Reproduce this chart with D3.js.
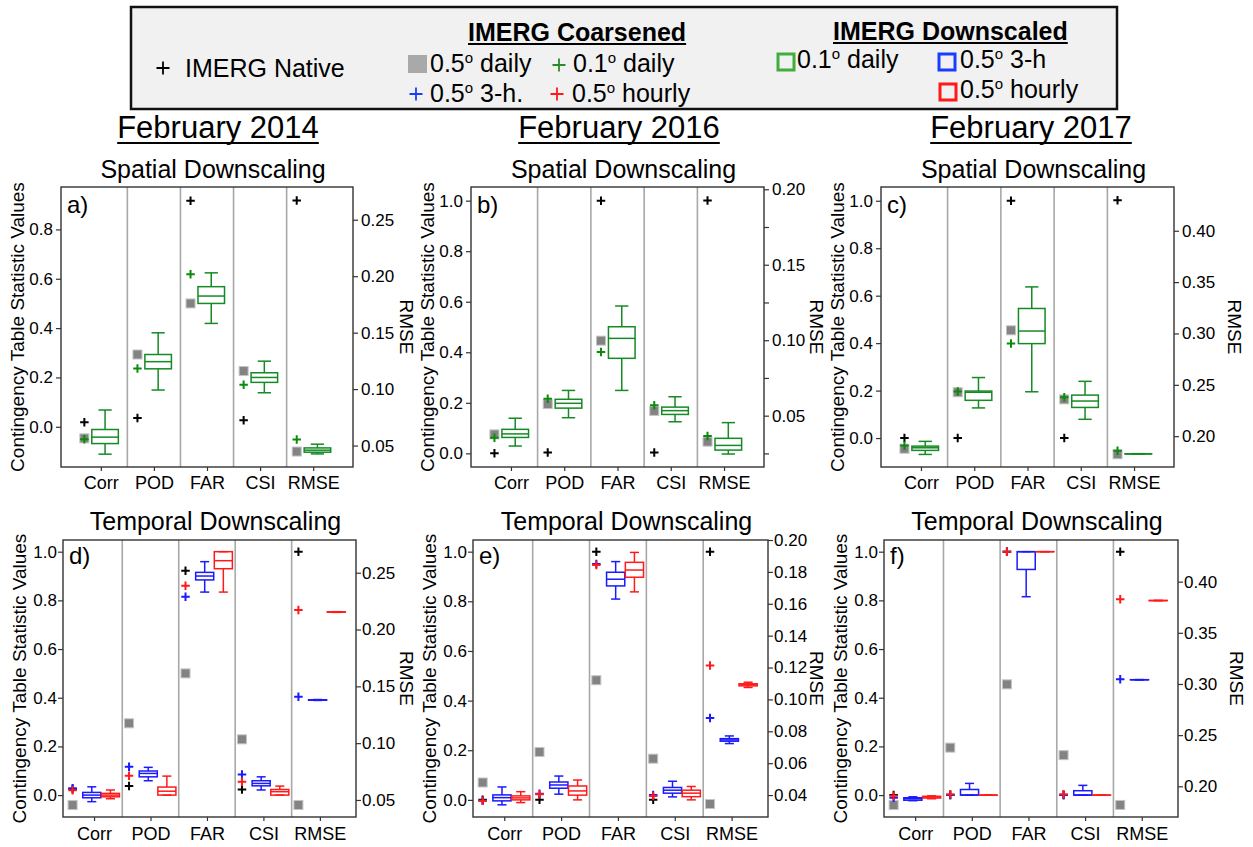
<!DOCTYPE html>
<html>
<head>
<meta charset="utf-8">
<script src="https://cdn.jsdelivr.net/npm/d3@7"></script>
<style>
  body { margin: 0; background: #fff; }
  text { font-family: "Liberation Sans", Arial, sans-serif; fill: #000; }
</style>
</head>
<body>
<svg id="chart" width="1253" height="847"></svg>
<script>
'use strict';

var categories = ['Corr', 'POD', 'FAR', 'CSI', 'RMSE'];
var months = ['February 2014', 'February 2016', 'February 2017'];
var leftTicks = [0, 0.2, 0.4, 0.6, 0.8, 1.0];

// box values are [low whisker, q1, median, q3, high whisker]; the RMSE entry uses the right axis

// a) Feb 2014, spatial
var a_native = [0.018, 0.036, 0.916, 0.027, 0.267];
var a_coarse05 = [-0.047, 0.293, 0.50, 0.226, 0.0447];
var a_coarse01 = [-0.051, 0.236, 0.618, 0.170, 0.0553];
var a_box01 = [[-0.111, -0.068, -0.042, -0.011, 0.068], [0.149, 0.235, 0.264, 0.293, 0.381], [0.419, 0.50, 0.530, 0.568, 0.624], [0.138, 0.180, 0.20, 0.219, 0.266], [0.0426, 0.0441, 0.0459, 0.0479, 0.0512]];
var a_rmseTicks = [0.05, 0.10, 0.15, 0.20, 0.25];

// b) Feb 2016, spatial
var b_native = [0, 0.003, 1.0, 0.003, 0.1925];
var b_coarse05 = [0.075, 0.195, 0.446, 0.168, 0.0328];
var b_coarse01 = [0.062, 0.216, 0.401, 0.190, 0.0365];
var b_box01 = [[0.029, 0.063, 0.077, 0.095, 0.139], [0.141, 0.179, 0.198, 0.214, 0.249], [0.249, 0.376, 0.455, 0.501, 0.583], [0.125, 0.154, 0.169, 0.183, 0.224], [0.0246, 0.0272, 0.0303, 0.035, 0.0454]];
var b_rmseTicks = [0.025, 0.05, 0.075, 0.10, 0.125, 0.15, 0.175, 0.20];

// c) Feb 2017, spatial
var c_native = [0, 0, 1.0, 0, 0.4296];
var c_coarse05 = [-0.045, 0.193, 0.454, 0.163, 0.1824];
var c_coarse01 = [-0.031, 0.196, 0.398, 0.172, 0.1857];
var c_box01 = [[-0.069, -0.052, -0.041, -0.034, -0.014], [0.127, 0.159, 0.193, 0.198, 0.255], [0.195, 0.398, 0.451, 0.546, 0.637], [0.079, 0.129, 0.156, 0.181, 0.239], [0.1826, 0.1827, 0.1828, 0.1829, 0.1830]];
var c_rmseTicks = [0.20, 0.25, 0.30, 0.35, 0.40];

// d) Feb 2014, temporal
var d_native = [0.025, 0.037, 0.922, 0.023, 0.2685];
var d_coarse05 = [-0.041, 0.295, 0.50, 0.229, 0.0456];
var d_coarse3h = [0.028, 0.116, 0.815, 0.085, 0.1409];
var d_coarse1h = [0.020, 0.079, 0.860, 0.055, 0.2172];
var d_box3h = [[-0.027, -0.011, 0.0, 0.011, 0.034], [0.059, 0.075, 0.089, 0.099, 0.114], [0.834, 0.884, 0.90, 0.915, 0.959], [0.021, 0.038, 0.048, 0.059, 0.075], [0.1376, 0.1378, 0.138, 0.1382, 0.1384]];
var d_box1h = [[-0.015, -0.007, 0.0, 0.007, 0.021], [0, 0, 0.016, 0.033, 0.078], [0.834, 0.930, 0.963, 1.0, 1.0], [0, 0, 0.014, 0.023, 0.037], [0.2151, 0.2153, 0.2154, 0.2155, 0.2157]];
var d_rmseTicks = [0.05, 0.10, 0.15, 0.20, 0.25];

// e) Feb 2016, temporal
var e_native = [0, 0, 1.0, 0, 0.1927];
var e_coarse05 = [0.070, 0.193, 0.482, 0.166, 0.0344];
var e_coarse3h = [-0.004, 0.025, 0.950, 0.020, 0.0883];
var e_coarse1h = [-0.004, 0.023, 0.946, 0.016, 0.1213];
var e_box3h = [[-0.020, -0.004, 0.009, 0.020, 0.052], [0.023, 0.047, 0.060, 0.072, 0.096], [0.809, 0.862, 0.889, 0.917, 0.960], [0.012, 0.027, 0.039, 0.050, 0.075], [0.0723, 0.0738, 0.0746, 0.0754, 0.0771]];
var e_box1h = [[-0.011, 0.0, 0.008, 0.016, 0.033], [0.0, 0.019, 0.036, 0.056, 0.080], [0.838, 0.897, 0.926, 0.957, 0.997], [0, 0.013, 0.027, 0.039, 0.054], [0.1075, 0.1085, 0.1092, 0.1098, 0.1108]];
var e_rmseTicks = [0.04, 0.06, 0.08, 0.10, 0.12, 0.14, 0.16, 0.18, 0.20];

// f) Feb 2017, temporal
var f_native = [0, 0, 1.0, 0, 0.4293];
var f_coarse05 = [-0.041, 0.195, 0.455, 0.164, 0.1818];
var f_coarse3h = [-0.011, 0.0, 1.0, 0.0, 0.3047];
var f_coarse1h = [-0.003, 0.003, 1.0, 0.003, 0.3828];
var f_box3h = [[-0.023, -0.021, -0.015, -0.011, -0.007], [0, 0, 0, 0.023, 0.048], [0.815, 0.927, 1.0, 1.0, 1.0], [0, 0, 0, 0.018, 0.040], [0.3040, 0.3041, 0.3041, 0.3042, 0.3043]];
var f_box1h = [[-0.015, -0.012, -0.008, -0.005, -0.003], [0, 0, 0, 0, 0], [1, 1, 1, 1, 1], [0, 0, 0, 0, 0], [0.3814, 0.3815, 0.3815, 0.3816, 0.3817]];
var f_rmseTicks = [0.20, 0.25, 0.30, 0.35, 0.40];

/*--------------------------------------------------------------------------*/

var colors = {
    green: '#158a25',
    greenPlus: '#0a8c0a',
    blue: '#1a1aff',
    red: '#ff1a1a',
    gray: '#838383',
    divider: '#a8a8a8',
    frame: '#333'
};

var topRow = { y0: 187, y1: 467, xDomain: [-0.75, 4.75] };
var bottomRow = { y0: 540, y1: 817, xDomain: [-0.55, 4.64] };

var panels = [
    { letter: 'a)', row: topRow, x0: 61, x1: 353, left: [-0.163, 0.972], right: [0.031, 0.279], rTicks: a_rmseTicks, rmseDx: 54,
      points: [[a_coarse05, 'sq'], [a_native, '#000'], [a_coarse01, colors.greenPlus]],
      boxes: [[a_box01, colors.green]] },
    { letter: 'b)', row: topRow, x0: 471, x1: 764, left: [-0.054, 1.054], right: [0.016, 0.2015], rTicks: b_rmseTicks, rmseDx: 53, labelEvery: 0.05,
      points: [[b_coarse05, 'sq'], [b_native, '#000'], [b_coarse01, colors.greenPlus]],
      boxes: [[b_box01, colors.green]] },
    { letter: 'c)', row: topRow, x0: 881, x1: 1174, left: [-0.122, 1.058], right: [0.170, 0.4426], rTicks: c_rmseTicks, rmseDx: 61,
      points: [[c_coarse05, 'sq'], [c_native, '#000'], [c_coarse01, colors.greenPlus]],
      boxes: [[c_box01, colors.green]] },
    { letter: 'd)', row: bottomRow, x0: 63, x1: 356, left: [-0.090, 1.048], right: [0.035, 0.2788], rTicks: d_rmseTicks, rmseDx: 51,
      points: [[d_coarse05, 'sq'], [d_native, '#000'], [d_coarse3h, colors.blue], [d_coarse1h, colors.red]],
      boxes: [[d_box3h, colors.blue], [d_box1h, colors.red]] },
    { letter: 'e)', row: bottomRow, x0: 473, x1: 768, left: [-0.069, 1.047], right: [0.02625, 0.20], rTicks: e_rmseTicks, rmseDx: 49,
      points: [[e_coarse05, 'sq'], [e_native, '#000'], [e_coarse3h, colors.blue], [e_coarse1h, colors.red]],
      boxes: [[e_box3h, colors.blue], [e_box1h, colors.red]] },
    { letter: 'f)', row: bottomRow, x0: 884, x1: 1178, left: [-0.090, 1.048], right: [0.170, 0.4407], rTicks: f_rmseTicks, rmseDx: 59,
      points: [[f_coarse05, 'sq'], [f_native, '#000'], [f_coarse3h, colors.blue], [f_coarse1h, colors.red]],
      boxes: [[f_box3h, colors.blue], [f_box1h, colors.red]] }
];

var svg = d3.select('#chart');

function plus(g, cx, cy, color, size, width) {
    var h = size / 2;
    g.append('path')
        .attr('d', 'M' + (cx - h) + ',' + cy + 'H' + (cx + h) + 'M' + cx + ',' + (cy - h) + 'V' + (cy + h))
        .attr('stroke', color)
        .attr('stroke-width', width)
        .attr('fill', 'none');
}

function square(g, cx, cy, size) {
    g.append('rect')
        .attr('x', cx - size / 2)
        .attr('y', cy - size / 2)
        .attr('width', size)
        .attr('height', size)
        .attr('fill', colors.gray)
        .attr('stroke', '#c4c4c4')
        .attr('stroke-width', 1);
}

function drawPanel(p) {
    var spatial = p.row === topRow;
    var y0 = p.row.y0, y1 = p.row.y1;
    var x = d3.scaleLinear().domain(p.row.xDomain).range([p.x0, p.x1]);
    var yL = d3.scaleLinear().domain(p.left).range([y1, y0]);
    var yR = d3.scaleLinear().domain(p.right).range([y1, y0]);
    var g = svg.append('g');

    g.append('rect')
        .attr('x', p.x0).attr('y', y0)
        .attr('width', p.x1 - p.x0).attr('height', y1 - y0)
        .attr('fill', '#fff');

    // column dividers
    g.selectAll('line.div')
        .data([0.5, 1.5, 2.5, 3.5])
        .enter()
        .append('line')
        .attr('x1', function(d) { return x(d); })
        .attr('x2', function(d) { return x(d); })
        .attr('y1', y0).attr('y2', y1)
        .attr('stroke', colors.divider)
        .attr('stroke-width', 1.6);

    // axes
    var la = g.append('g')
        .attr('transform', 'translate(' + p.x0 + ',0)')
        .call(d3.axisLeft(yL)
            .tickValues(leftTicks.filter(function(t) { return t >= p.left[0] && t <= p.left[1]; }))
            .tickFormat(d3.format('.1f')).tickSize(5).tickPadding(spatial ? 3 : 1));
    var ra = g.append('g')
        .attr('transform', 'translate(' + p.x1 + ',0)')
        .call(d3.axisRight(yR)
            .tickValues(p.rTicks)
            .tickFormat(function(t) {
                if (p.labelEvery && Math.abs(Math.round(t / p.labelEvery) * p.labelEvery - t) > 1e-6) return '';
                return d3.format('.2f')(t);
            })
            .tickSize(5).tickPadding(spatial ? 3 : 1));
    var ba = g.append('g')
        .attr('transform', 'translate(0,' + y1 + ')')
        .call(d3.axisBottom(x)
            .tickValues([0, 1, 2, 3, 4])
            .tickFormat(function(i) { return categories[i]; })
            .tickSize(4).tickPadding(spatial ? 5 : 6));
    [la, ra, ba].forEach(function(a) {
        a.select('.domain').remove();
        a.selectAll('text').attr('font-size', '17px').attr('font-family', '"Liberation Sans", Arial, sans-serif').attr('fill', '#000');
        a.selectAll('line').attr('stroke', colors.frame).attr('stroke-width', 1.2);
    });
    ba.selectAll('text').attr('font-size', '18px');

    // boxes
    var boxOffsets = spatial ? [0.08] : [-0.04, 0.29];
    var boxWidth = spatial ? 0.5 : 0.32;
    var half = (x(boxWidth) - x(0)) / 2;
    p.boxes.forEach(function(b, k) {
        var data = b[0], color = b[1];
        data.forEach(function(v, i) {
            var y = i === 4 ? yR : yL;
            var cx = x(i + boxOffsets[k]);
            var bg = g.append('g')
                .attr('stroke', color)
                .attr('stroke-width', 1.5)
                .attr('fill', 'none');
            bg.append('line').attr('x1', cx).attr('x2', cx).attr('y1', y(v[0])).attr('y2', y(v[1]));
            bg.append('line').attr('x1', cx).attr('x2', cx).attr('y1', y(v[3])).attr('y2', y(v[4]));
            bg.append('line').attr('x1', cx - half / 2).attr('x2', cx + half / 2).attr('y1', y(v[0])).attr('y2', y(v[0]));
            bg.append('line').attr('x1', cx - half / 2).attr('x2', cx + half / 2).attr('y1', y(v[4])).attr('y2', y(v[4]));
            bg.append('rect')
                .attr('x', cx - half).attr('y', y(v[3]))
                .attr('width', half * 2).attr('height', Math.max(0.01, y(v[1]) - y(v[3])));
            bg.append('line').attr('x1', cx - half).attr('x2', cx + half).attr('y1', y(v[2])).attr('y2', y(v[2]));
        });
    });

    // single-value markers
    var pointOffset = spatial ? -0.31 : -0.38;
    p.points.forEach(function(s) {
        s[0].forEach(function(v, i) {
            var cy = (i === 4 ? yR : yL)(v);
            var cx = x(i + pointOffset);
            if (s[1] === 'sq') {
                square(g, cx, cy, 9);
            } else {
                plus(g, cx, cy, s[1], 8.5, 2);
            }
        });
    });

    g.append('rect')
        .attr('x', p.x0).attr('y', y0)
        .attr('width', p.x1 - p.x0).attr('height', y1 - y0)
        .attr('fill', 'none')
        .attr('stroke', colors.frame)
        .attr('stroke-width', 1.4);

    g.append('text')
        .attr('x', p.x0 + 6).attr('y', y0 + (spatial ? 26 : 24))
        .attr('font-size', '24px')
        .text(p.letter);

    var cy = (y0 + y1) / 2;
    g.append('text')
        .attr('transform', 'translate(' + (p.x0 - 44) + ',' + cy + ') rotate(-90)')
        .attr('dy', '0.35em')
        .attr('text-anchor', 'middle')
        .attr('font-size', '19px')
        .text('Contingency Table Statistic Values');
    g.append('text')
        .attr('transform', 'translate(' + (p.x1 + p.rmseDx) + ',' + cy + ') rotate(90)')
        .attr('dy', '0.35em')
        .attr('text-anchor', 'middle')
        .attr('font-size', '19px')
        .text('RMSE');

    g.append('text')
        .attr('x', (p.x0 + p.x1) / 2 + 6)
        .attr('y', spatial ? 178 : 530)
        .attr('text-anchor', 'middle')
        .attr('font-size', '25px')
        .text(spatial ? 'Spatial Downscaling' : 'Temporal Downscaling');
}

panels.forEach(drawPanel);

// month headers
var monthX = [218, 619, 1031];
months.forEach(function(m, i) {
    var t = svg.append('text')
        .attr('x', monthX[i]).attr('y', 138)
        .attr('text-anchor', 'middle')
        .attr('font-size', '31px')
        .text(m);
    var w = t.node().getComputedTextLength();
    svg.append('line')
        .attr('x1', monthX[i] - w / 2).attr('x2', monthX[i] + w / 2)
        .attr('y1', 143).attr('y2', 143)
        .attr('stroke', '#000').attr('stroke-width', 2);
});

/*--------------------------------------------------------------------------*/
// legend

var leg = svg.append('g');
leg.append('rect')
    .attr('x', 131).attr('y', 7)
    .attr('width', 986).attr('height', 102)
    .attr('fill', '#f1f1f1')
    .attr('stroke', '#111')
    .attr('stroke-width', 2.5);

function degreeText(xp, yp, lead, tail) {
    var t = leg.append('text').attr('x', xp).attr('y', yp).attr('font-size', '25px');
    t.append('tspan').text(lead);
    t.append('tspan').attr('font-size', '15px').attr('dy', -9).text('o');
    t.append('tspan').attr('dy', 9).text(tail);
}

function header(xp, yp, label) {
    var t = leg.append('text')
        .attr('x', xp).attr('y', yp)
        .attr('font-size', '25px')
        .attr('font-weight', 'bold')
        .text(label);
    var w = t.node().getComputedTextLength();
    leg.append('line')
        .attr('x1', xp).attr('x2', xp + w)
        .attr('y1', yp + 3).attr('y2', yp + 3)
        .attr('stroke', '#000').attr('stroke-width', 2);
}

plus(leg, 163, 68, '#000', 13, 1.8);
leg.append('text').attr('x', 185).attr('y', 77).attr('font-size', '25px').text('IMERG Native');

header(468, 41, 'IMERG Coarsened');
header(833, 40, 'IMERG Downscaled');

leg.append('rect').attr('x', 408).attr('y', 55).attr('width', 19).attr('height', 18).attr('fill', '#a9a9a9');
degreeText(430, 72, '0.5', ' daily');
plus(leg, 559, 65, '#2a8a2a', 13, 1.8);
degreeText(573, 72, '0.1', ' daily');
plus(leg, 416, 94, '#1a3cff', 13, 1.8);
degreeText(430, 102, '0.5', ' 3-h.');
plus(leg, 557, 94, '#ff1a1a', 13, 1.8);
degreeText(572, 102, '0.5', ' hourly');

[[778, 54, '#3fae3f'], [939, 54, '#1a3cff'], [940, 84, '#ff1a1a']].forEach(function(s) {
    leg.append('rect')
        .attr('x', s[0]).attr('y', s[1])
        .attr('width', 16).attr('height', 16)
        .attr('fill', 'none')
        .attr('stroke', s[2])
        .attr('stroke-width', 3);
});
degreeText(797, 68, '0.1', ' daily');
degreeText(960, 68, '0.5', ' 3-h');
degreeText(960, 98, '0.5', ' hourly');
</script>
</body>
</html>
